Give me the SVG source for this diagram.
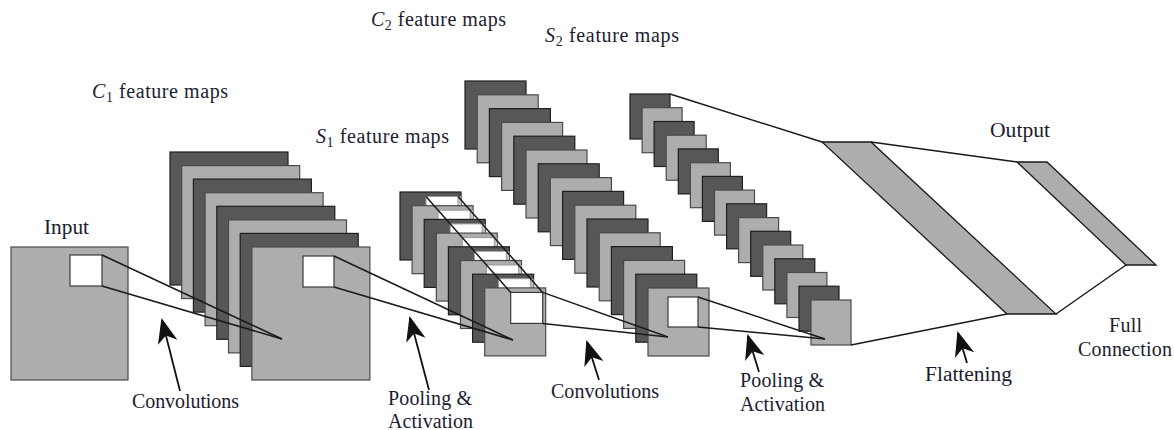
<svg xmlns="http://www.w3.org/2000/svg" width="1174" height="430" viewBox="0 0 1174 430">
<style>
  .d{fill:#575757;stroke:#1e1e1e;stroke-width:1.2}
  .l{fill:#adadad;stroke:#4a4a4a;stroke-width:1.2}
  .win{fill:#ffffff;stroke:#3a3a3a;stroke-width:1.2}
  .tw{fill:#ffffff;stroke:#9a9a9a;stroke-width:1}
  .tr{fill:#c4c4c4;stroke:none}
  .cn{stroke:#1a1a1a;stroke-width:1.5;fill:none}
  .ar{stroke:#111;stroke-width:1.8;fill:none;marker-end:url(#ah)}
  .band{fill:#adadad;stroke:#1a1a1a;stroke-width:1.3}
  .lbl{font-family:'Liberation Serif',serif;font-size:20px;fill:#1c1c30}
  .it{font-style:italic}
</style>
<defs>
  <marker id="ah" markerUnits="userSpaceOnUse" markerWidth="28" markerHeight="22" refX="23" refY="10" orient="auto" viewBox="0 0 28 22">
    <path d="M0,0 L25,10 L0,20 L7,10 Z" fill="#111"/>
  </marker>
</defs>

<g id="input">
  <rect x="11" y="247" width="117" height="133" class="l"/>
  <rect x="70" y="255" width="32" height="31" class="win"/>
</g>

<g id="c1-maps">
  <rect x="170" y="152" width="118" height="133" class="d"/>
  <rect x="181.7" y="165.6" width="118" height="133" class="l"/>
  <rect x="193.4" y="179.1" width="118" height="133" class="d"/>
  <rect x="205.1" y="192.7" width="118" height="133" class="l"/>
  <rect x="216.8" y="206.3" width="118" height="133" class="d"/>
  <rect x="228.5" y="219.9" width="118" height="133" class="l"/>
  <rect x="240.2" y="233.4" width="118" height="133" class="d"/>
  <rect x="251.9" y="247" width="118" height="133" class="l"/>
  <rect x="303" y="256" width="31" height="31" class="win"/>
</g>

<g id="s1-maps">
  <rect x="400" y="192" width="61" height="68" class="d"/>
  <rect x="426" y="196.5" width="35" height="31" class="tr"/>
  <rect x="426" y="196.5" width="32" height="31" class="tw"/>
  <rect x="412.1" y="205.7" width="61" height="68" class="l"/>
  <rect x="438.1" y="210.2" width="35" height="31" class="tr"/>
  <rect x="438.1" y="210.2" width="32" height="31" class="tw"/>
  <rect x="424.2" y="219.4" width="61" height="68" class="d"/>
  <rect x="450.2" y="223.9" width="35" height="31" class="tr"/>
  <rect x="450.2" y="223.9" width="32" height="31" class="tw"/>
  <rect x="436.3" y="233.1" width="61" height="68" class="l"/>
  <rect x="462.3" y="237.6" width="35" height="31" class="tr"/>
  <rect x="462.3" y="237.6" width="32" height="31" class="tw"/>
  <rect x="448.4" y="246.8" width="61" height="68" class="d"/>
  <rect x="474.4" y="251.3" width="35" height="31" class="tr"/>
  <rect x="474.4" y="251.3" width="32" height="31" class="tw"/>
  <rect x="460.5" y="260.5" width="61" height="68" class="l"/>
  <rect x="486.5" y="265" width="35" height="31" class="tr"/>
  <rect x="486.5" y="265" width="32" height="31" class="tw"/>
  <rect x="472.6" y="274.2" width="61" height="68" class="d"/>
  <rect x="498.6" y="278.7" width="35" height="31" class="tr"/>
  <rect x="498.6" y="278.7" width="32" height="31" class="tw"/>
  <rect x="484.7" y="287.9" width="61" height="68" class="l"/>
  <rect x="510.7" y="292.4" width="32" height="31" class="win"/>
</g>

<g id="c2-maps">
  <rect x="465" y="81" width="61" height="68" class="d"/>
  <rect x="477.2" y="94.8" width="61" height="68" class="l"/>
  <rect x="489.4" y="108.6" width="61" height="68" class="d"/>
  <rect x="501.6" y="122.4" width="61" height="68" class="l"/>
  <rect x="513.8" y="136.2" width="61" height="68" class="d"/>
  <rect x="526" y="150" width="61" height="68" class="l"/>
  <rect x="538.2" y="163.8" width="61" height="68" class="d"/>
  <rect x="550.4" y="177.6" width="61" height="68" class="l"/>
  <rect x="562.6" y="191.4" width="61" height="68" class="d"/>
  <rect x="574.8" y="205.2" width="61" height="68" class="l"/>
  <rect x="587" y="219" width="61" height="68" class="d"/>
  <rect x="599.2" y="232.8" width="61" height="68" class="l"/>
  <rect x="611.4" y="246.6" width="61" height="68" class="d"/>
  <rect x="623.6" y="260.4" width="61" height="68" class="l"/>
  <rect x="635.8" y="274.2" width="61" height="68" class="d"/>
  <rect x="648" y="288" width="61" height="68" class="l"/>
  <rect x="668" y="297" width="30" height="30" class="win"/>
</g>

<g id="s2-maps">
  <rect x="630" y="94" width="40" height="45" class="d"/>
  <rect x="642.1" y="107.7" width="40" height="45" class="l"/>
  <rect x="654.1" y="121.5" width="40" height="45" class="d"/>
  <rect x="666.2" y="135.2" width="40" height="45" class="l"/>
  <rect x="678.3" y="148.9" width="40" height="45" class="d"/>
  <rect x="690.4" y="162.7" width="40" height="45" class="l"/>
  <rect x="702.4" y="176.4" width="40" height="45" class="d"/>
  <rect x="714.5" y="190.1" width="40" height="45" class="l"/>
  <rect x="726.6" y="203.8" width="40" height="45" class="d"/>
  <rect x="738.6" y="217.6" width="40" height="45" class="l"/>
  <rect x="750.7" y="231.3" width="40" height="45" class="d"/>
  <rect x="762.8" y="245" width="40" height="45" class="l"/>
  <rect x="774.8" y="258.8" width="40" height="45" class="d"/>
  <rect x="786.9" y="272.5" width="40" height="45" class="l"/>
  <rect x="799" y="286.2" width="40" height="45" class="d"/>
  <rect x="811" y="300" width="40" height="45" class="l"/>
</g>

<g id="flatten-layer">
  <polygon points="822,142 871,142 1056,314 1007,314" class="band"/>
</g>

<g id="output-layer">
  <polygon points="1017,162 1047,162 1156,265 1126,265" class="band"/>
</g>

<g id="connectors">
  <line x1="102" y1="255" x2="282" y2="339" class="cn"/>
  <line x1="102" y1="286" x2="282" y2="339" class="cn"/>
  <line x1="334" y1="256" x2="513" y2="340" class="cn"/>
  <line x1="334" y1="287" x2="513" y2="340" class="cn"/>
  <line x1="426" y1="196.5" x2="510.7" y2="292.4" class="cn"/>
  <line x1="458" y1="196.5" x2="542.7" y2="292.4" class="cn"/>
  <line x1="542.7" y1="292.4" x2="668" y2="337" class="cn"/>
  <line x1="542.7" y1="323.4" x2="668" y2="337" class="cn"/>
  <line x1="698" y1="297" x2="825" y2="339" class="cn"/>
  <line x1="698" y1="327" x2="825" y2="339" class="cn"/>
  <line x1="670" y1="94" x2="822" y2="142" class="cn"/>
  <line x1="851" y1="345" x2="1007" y2="314" class="cn"/>
  <line x1="871" y1="142" x2="1017" y2="162" class="cn"/>
  <line x1="1056" y1="314" x2="1126" y2="265" class="cn"/>
  <line x1="180" y1="391" x2="162" y2="320" class="ar"/>
  <line x1="429" y1="390" x2="410" y2="318" class="ar"/>
  <line x1="599" y1="380" x2="587" y2="342" class="ar"/>
  <line x1="759" y1="372" x2="748" y2="336" class="ar"/>
  <line x1="967" y1="363" x2="958" y2="333" class="ar"/>
</g>

<g id="labels" class="lbl" font-family="Liberation Serif, serif">
  <text x="44" y="234" textLength="45" lengthAdjust="spacingAndGlyphs">Input</text>
  <text x="92" y="98" textLength="136"><tspan class="it">C</tspan><tspan font-size="14" dy="4">1</tspan><tspan dy="-4"> feature maps</tspan></text>
  <text x="316" y="143" textLength="133"><tspan class="it">S</tspan><tspan font-size="14" dy="4">1</tspan><tspan dy="-4"> feature maps</tspan></text>
  <text x="371" y="26" textLength="135"><tspan class="it">C</tspan><tspan font-size="14" dy="4">2</tspan><tspan dy="-4"> feature maps</tspan></text>
  <text x="545" y="42" textLength="134"><tspan class="it">S</tspan><tspan font-size="14" dy="4">2</tspan><tspan dy="-4"> feature maps</tspan></text>
  <text x="990" y="137" textLength="60" lengthAdjust="spacingAndGlyphs">Output</text>
  <text x="132" y="408" textLength="107">Convolutions</text>
  <text x="388" y="405" textLength="84">Pooling &amp;</text>
  <text x="388" y="428" textLength="85">Activation</text>
  <text x="551" y="398" textLength="108">Convolutions</text>
  <text x="740" y="387" textLength="84">Pooling &amp;</text>
  <text x="740" y="411" textLength="85">Activation</text>
  <text x="925" y="381" textLength="87" lengthAdjust="spacingAndGlyphs">Flattening</text>
  <text x="1109" y="332" textLength="33">Full</text>
  <text x="1078" y="356" textLength="94">Connection</text>
</g>
</svg>
